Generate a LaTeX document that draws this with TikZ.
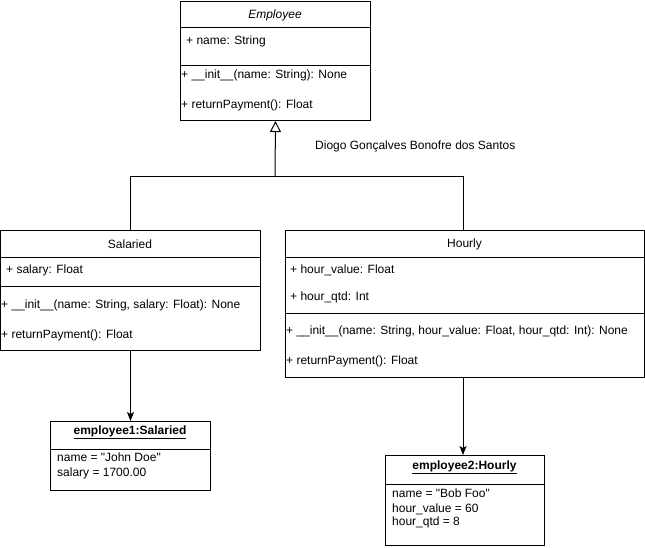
\documentclass[tikz,border=0pt]{standalone}
\usepackage{fontspec}
\setmainfont{Liberation Sans}
\usetikzlibrary{arrows.meta}
\begin{document}
\begin{tikzpicture}[x=1pt,y=-1pt,
  every node/.style={font=\fontsize{12}{14}\selectfont, inner sep=0pt, yshift=-1pt},
  umlbox/.style={draw, line width=1pt, fill=white, anchor=north west, yshift=1pt},
  member/.style={anchor=west},
  title/.style={anchor=center},
  sep/.style={line width=1pt},
  link/.style={line width=1pt},
  inherit/.style={link, -{Triangle[open, length=11pt, width=11pt]}},
  assoc/.style={link, -{Stealth[length=9pt, width=7pt, inset=2pt]}}]
\useasboundingbox (0,0) rectangle (645,547);

% Employee class
\node[umlbox, minimum width=190pt, minimum height=119pt] (emp) at (180,1) {};
\draw[sep] (180,27) -- (370,27);
\draw[sep] (180,65) -- (370,65);
\node[title, font=\fontsize{12}{14}\selectfont\itshape] (empT) at (275,14) {Employee};
\node[member] (empA1) at (186,40) {+ name: String};
\node[member] (empM1) at (181,74) {+ \_\_init\_\_(name: String): None};
\node[member] (empM2) at (181,104) {+ returnPayment(): Float};

% Salaried class
\node[umlbox, minimum width=260pt, minimum height=120pt] (sal) at (0,230) {};
\draw[sep] (0,257) -- (260,257);
\draw[sep] (0,286) -- (260,286);
\node[title] (salT) at (130,243) {Salaried};
\node[member] (salA1) at (6,269) {+ salary: Float};
\node[member] (salM1) at (1,304) {+ \_\_init\_\_(name: String, salary: Float): None};
\node[member] (salM2) at (1,334) {+ returnPayment(): Float};

% Hourly class
\node[umlbox, minimum width=359pt, minimum height=147pt] (hou) at (285,230) {};
\draw[sep] (285,257) -- (644,257);
\draw[sep] (285,313) -- (644,313);
\node[title] (houT) at (464.5,243) {Hourly};
\node[member] (houA1) at (290,269) {+ hour\_value: Float};
\node[member] (houA2) at (290,296) {+ hour\_qtd: Int};
\node[member] (houM1) at (286,330) {+ \_\_init\_\_(name: String, hour\_value: Float, hour\_qtd: Int): None};
\node[member] (houM2) at (286,360) {+ returnPayment(): Float};

% Objects
\node[umlbox, minimum width=160pt, minimum height=69pt] (obj1) at (50,421) {};
\draw[sep] (50,449) -- (210,449);
\node[title, font=\fontsize{12}{14}\selectfont\bfseries] (obj1T) at (130,431) {\underline{employee1:Salaried}};
\node[member] (obj1A) at (57,456) {name = \textquotedbl John Doe\textquotedbl};
\node[member] (obj1B) at (57,472) {salary = 1700.00};

\node[umlbox, minimum width=159pt, minimum height=90pt] (obj2) at (385,455) {};
\draw[sep] (385,484) -- (544,484);
\node[title, font=\fontsize{12}{14}\selectfont\bfseries] (obj2T) at (464.5,466) {\underline{employee2:Hourly}};
\node[member] (obj2A) at (392,492) {name = \textquotedbl Bob Foo\textquotedbl};
\node[member] (obj2B) at (392,508) {hour\_value = 60};
\node[member] (obj2C) at (392,521) {hour\_qtd = 8};

% Author label
\node[member] (author) at (315,145) {Diogo Gonçalves Bonofre dos Santos};

% Generalisation tree
\coordinate (joint) at (275,175);
\draw[link] (sal.north -| 130,0) |- (joint);
\draw[link] (hou.north -| 463,0) |- (joint);
\draw[inherit] (joint) -- (emp.south);

% Instance links
\draw[assoc] (sal.south) -- (obj1.north);
\draw[assoc] (463,377) -- (463,455);
\end{tikzpicture}
\end{document}
